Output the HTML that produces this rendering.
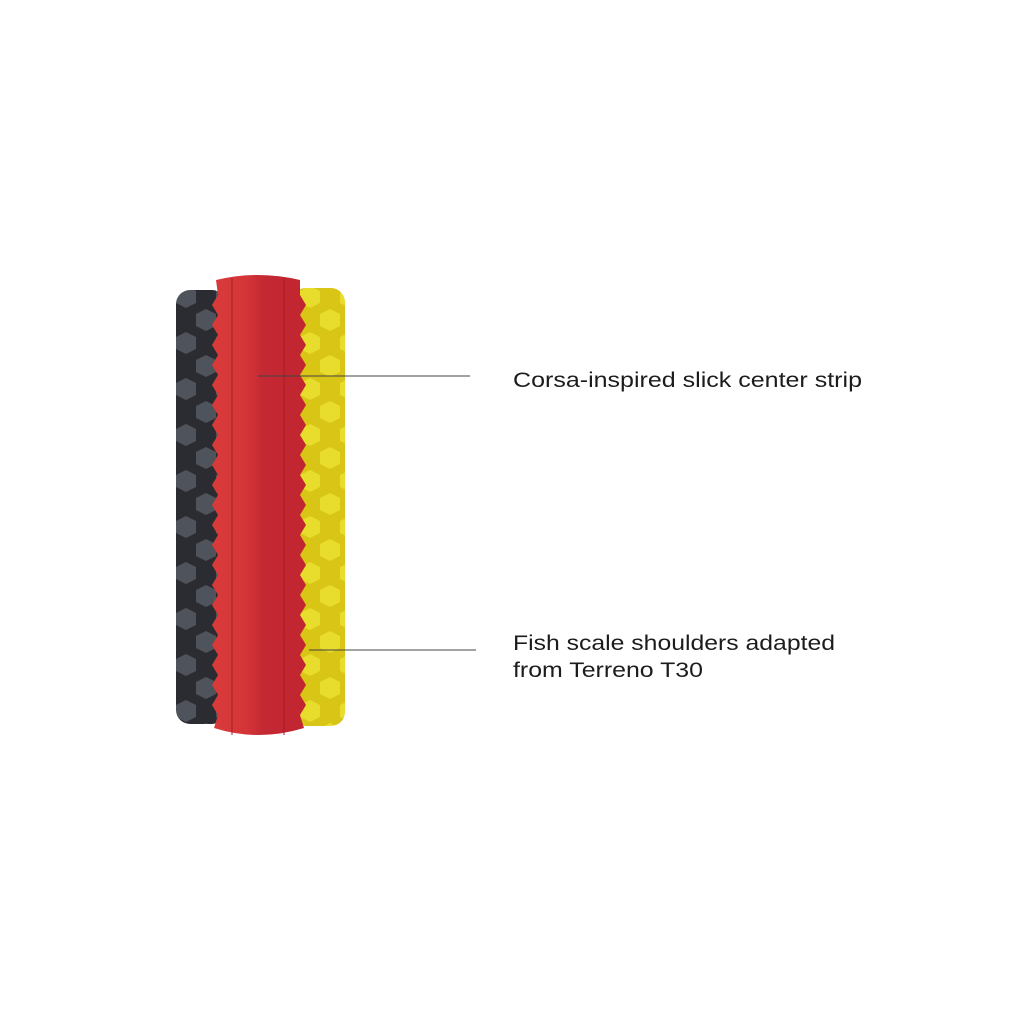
<!DOCTYPE html>
<html><head><meta charset="utf-8"><style>html,body{margin:0;padding:0;background:#fff}svg{display:block}</style></head>
<body>
<svg width="1024" height="1024" viewBox="0 0 1024 1024" xmlns="http://www.w3.org/2000/svg">
<defs>
<pattern id="hg" x="176" y="285" width="40" height="46" patternUnits="userSpaceOnUse">
<rect width="40" height="46" fill="#2a2c31"/>
<polygon points="10,1 20,6 20,18 10,23 0,18 0,6" fill="#4f535b"/>
<polygon points="30,24 40,29 40,41 30,46 20,41 20,29" fill="#4f535b"/>
<polygon points="-10,24 0,29 0,41 -10,46 -20,41 -20,29" fill="#4f535b"/>
<polygon points="30,-22 40,-17 40,-5 30,0 20,-5 20,-17" fill="#4f535b"/>
</pattern>
<pattern id="hy" x="300" y="285" width="40" height="46" patternUnits="userSpaceOnUse">
<rect width="40" height="46" fill="#d8c516"/>
<polygon points="10,1 20,6 20,18 10,23 0,18 0,6" fill="#e8dc2c"/>
<polygon points="30,24 40,29 40,41 30,46 20,41 20,29" fill="#e8dc2c"/>
<polygon points="-10,24 0,29 0,41 -10,46 -20,41 -20,29" fill="#e8dc2c"/>
<polygon points="30,-22 40,-17 40,-5 30,0 20,-5 20,-17" fill="#e8dc2c"/>
</pattern>
<linearGradient id="rg" x1="0" x2="1">
<stop offset="0" stop-color="#d93a3a"/><stop offset="0.35" stop-color="#d43638"/><stop offset="0.55" stop-color="#c42832"/><stop offset="1" stop-color="#c12530"/>
</linearGradient>
</defs>
<rect x="176" y="290" width="50" height="434" rx="14" fill="url(#hg)"/>
<rect x="292" y="288" width="53" height="438" rx="14" fill="url(#hy)"/>
<path d="M216,280 Q258,270 300,280 L300,295 L306,305 L300,315 L306,325 L300,335 L306,345 L300,355 L306,365 L300,375 L306,385 L300,395 L306,405 L300,415 L306,425 L300,435 L306,445 L300,455 L306,465 L300,475 L306,485 L300,495 L306,505 L300,515 L306,525 L300,535 L306,545 L300,555 L306,565 L300,575 L306,585 L300,595 L306,605 L300,615 L306,625 L300,635 L306,645 L300,655 L306,665 L300,675 L306,685 L300,695 L306,705 L300,715 L304,728 Q258,742 214,728 L218,715 L212,705 L218,695 L212,685 L218,675 L212,665 L218,655 L212,645 L218,635 L212,625 L218,615 L212,605 L218,595 L212,585 L218,575 L212,565 L218,555 L212,545 L218,535 L212,525 L218,515 L212,505 L218,495 L212,485 L218,475 L212,465 L218,455 L212,445 L218,435 L212,425 L218,415 L212,405 L218,395 L212,385 L218,375 L212,365 L218,355 L212,345 L218,335 L212,325 L218,315 L212,305 L218,295 Z" fill="url(#rg)"/>
<line x1="232" y1="278" x2="232" y2="735" stroke="#a51c26" stroke-width="1"/>
<line x1="284" y1="278" x2="284" y2="735" stroke="#a51c26" stroke-width="1"/>
<line x1="258" y1="376" x2="470" y2="376" stroke="#444" stroke-width="1"/>
<line x1="309" y1="650" x2="476" y2="650" stroke="#444" stroke-width="1"/>
<g font-family="Liberation Sans, sans-serif" font-size="21" fill="#1c1c1c">
<text x="513" y="387" textLength="349" lengthAdjust="spacingAndGlyphs">Corsa-inspired slick center strip</text>
<text x="513" y="650" textLength="322" lengthAdjust="spacingAndGlyphs">Fish scale shoulders adapted</text>
<text x="513" y="677" textLength="190" lengthAdjust="spacingAndGlyphs">from Terreno T30</text>
</g>
</svg>
</body></html>
